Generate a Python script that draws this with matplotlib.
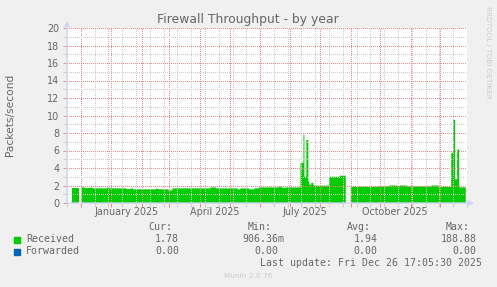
import pandas as pd
import numpy as np
import matplotlib
matplotlib.use('Agg')
import matplotlib.pyplot as plt
import matplotlib.dates as mdates
from matplotlib.ticker import MultipleLocator
from matplotlib.transforms import blended_transform_factory

# 数据（从图上读出，分段常数）
seg_dates = ['2024-11-21 17:05', '2024-11-29', '2024-12-02', '2024-12-05', '2024-12-10',
             '2024-12-13', '2024-12-28', '2024-12-30', '2025-01-16', '2025-01-21',
             '2025-01-23', '2025-02-15', '2025-02-18', '2025-02-28', '2025-03-04',
             '2025-04-12', '2025-04-17', '2025-05-09', '2025-05-12', '2025-05-21',
             '2025-05-26', '2025-05-31', '2025-06-20', '2025-06-23', '2025-06-28',
             '2025-07-12', '2025-07-15', '2025-07-16', '2025-07-18', '2025-07-20',
             '2025-07-21', '2025-07-23', '2025-07-25', '2025-07-26', '2025-08-10',
             '2025-08-21', '2025-08-27', '2025-09-01', '2025-09-28', '2025-10-10',
             '2025-10-18', '2025-10-21', '2025-10-28', '2025-11-22', '2025-11-29',
             '2025-12-12', '2025-12-14', '2025-12-16', '2025-12-18', '2025-12-20']
received = [1.67, np.nan, 1.78, 1.71, 1.75,
            1.67, 1.78, 1.67, 1.60, 1.67,
            1.56, 1.63, 1.56, 1.44, 1.67,
            1.78, 1.67, 1.56, 1.67, 1.56,
            1.67, 1.78, 1.86, 1.75, 1.78,
            4.6, 7.8, 3.0, 7.2, 2.45,
            2.1, 2.3, 2.05, 1.98, 3.0,
            3.12, np.nan, 1.86, 1.9, 2.0,
            1.95, 2.0, 1.9, 2.0, 1.86,
            5.7, 9.5, 2.7, 6.1, 1.78]
forwarded = [0.0] * len(received)

end_time = '2025-12-26 17:05:30'
month_labels = ['2025-01-16', '2025-04-16', '2025-07-16', '2025-10-16']

legend_names = ['Received', 'Forwarded']
legend_colors = ['#00CC00', '#0066B3']
legend_cur = ['1.78', '0.00']
legend_min = ['906.36m', '0.00']
legend_avg = ['1.94', '0.00']
legend_max = ['188.88', '0.00']

W, H = 497, 287
fig = plt.figure(figsize=(W / 100, H / 100), dpi=100, facecolor='#F0F0F0')
# 画布按整像素对齐，虚线网格才清楚
ax = fig.add_axes([67 / W, 84 / H, 400 / W, 175 / H], facecolor='white')

# 分段常数 -> 按小时展开（保留缺口）
t = pd.to_datetime(seg_dates, format='mixed')
grid_t = pd.date_range(t[0], pd.Timestamp(end_time), freq='1h')
recv = pd.Series(received, index=t).reindex(grid_t, method='ffill')
fwd = pd.Series(forwarded, index=t).reindex(grid_t, method='ffill')
ax.fill_between(grid_t, 0, recv.values, color='#00CC00', linewidth=0)
ax.fill_between(grid_t, 0, fwd.values, color='#0066B3', linewidth=0)

x0 = pd.Timestamp(end_time) - pd.Timedelta(days=400)
ax.set_xlim(x0, pd.Timestamp(end_time))
ax.set_ylim(0, 20)

# 网格
ax.yaxis.set_major_locator(MultipleLocator(2))
ax.yaxis.set_minor_locator(MultipleLocator(1))
ax.xaxis.set_major_locator(mdates.MonthLocator())
minor_days = pd.date_range('2024-11-17', '2025-12-31', freq='14D')
ax.set_xticks(mdates.date2num(minor_days), minor=True)
ax.xaxis.set_major_formatter(plt.NullFormatter())
ax.xaxis.set_minor_formatter(plt.NullFormatter())

red = '#EE8888'
gray = '#CCCCCC'
dots = (0.5, (1, 1))  # 偏移半像素，点落在整像素上
ax.set_axisbelow(False)
ax.grid(True, which='major', color=red, linestyle=dots, linewidth=0.72)
ax.grid(True, which='minor', color=gray, linestyle=dots, linewidth=0.72)
ax.tick_params(which='major', length=3, width=0.72, color=red, labelsize=6.9,
               labelcolor='#666666', pad=2.5)
ax.tick_params(which='minor', length=3, width=0.72, color=gray)
for s in ax.spines.values():
    s.set_visible(False)

# 坐标轴和箭头
axis_col = '#CFD6F8'
ax.annotate('', xy=(0, 1 + 7 / 175), xytext=(0, 0), xycoords='axes fraction',
            arrowprops=dict(arrowstyle='-|>', color=axis_col, lw=1, mutation_scale=7,
                            shrinkA=0, shrinkB=0), annotation_clip=False)
ax.annotate('', xy=(1 + 7 / 400, 0), xytext=(0, 0), xycoords='axes fraction',
            arrowprops=dict(arrowstyle='-|>', color=axis_col, lw=1, mutation_scale=7,
                            shrinkA=0, shrinkB=0), annotation_clip=False)

trans = blended_transform_factory(ax.transData, ax.transAxes)
for d in month_labels:
    dt = pd.Timestamp(d)
    ax.text(mdates.date2num(dt), -9.4 / 175, dt.strftime('%B %Y'), transform=trans,
            ha='center', va='center', fontsize=6.9, color='#666666')

fig.text(248 / W, 1 - 19 / H, 'Firewall Throughput - by year', ha='center', va='center',
         fontsize=8.9, color='#666666')
fig.text(10.5 / W, 1 - 115 / H, 'Packets/second', rotation=90, ha='center', va='center',
         fontsize=7.7, color='#666666')
fig.text(488 / W, 1 - 52 / H, 'RRDTOOL / TOBI OETIKER', rotation=270, ha='center', va='center',
         fontsize=5.2, color='#CCCCCC')

# 图例
mono = 'DejaVu Sans Mono'
def px(x, y):
    return x / W, 1 - y / H

for lab, xr in zip(['Cur:', 'Min:', 'Avg:', 'Max:'], [172, 272, 371, 470]):
    fig.text(*px(xr, 227.3), lab, ha='right', va='center', family=mono, fontsize=7.1, color='#666666')
rows_y = [239.5, 251.5]
for i in range(2):
    y = rows_y[i]
    fig.patches.append(plt.Rectangle(px(14, y + 3), 6 / W, 6 / H, transform=fig.transFigure,
                                     color=legend_colors[i]))
    fig.text(*px(26, y), legend_names[i], ha='left', va='center', family=mono, fontsize=7.1,
             color='#666666')
    fig.text(*px(179, y), legend_cur[i], ha='right', va='center', family=mono, fontsize=7.1, color='#666666')
    mx = 284.3 if legend_min[i].endswith('m') else 278.3
    fig.text(*px(mx, y), legend_min[i], ha='right', va='center', family=mono, fontsize=7.1, color='#666666')
    fig.text(*px(377.7, y), legend_avg[i], ha='right', va='center', family=mono, fontsize=7.1, color='#666666')
    fig.text(*px(476.7, y), legend_max[i], ha='right', va='center', family=mono, fontsize=7.1, color='#666666')

fig.text(*px(482.3, 263.3), 'Last update: Fri Dec 26 17:05:30 2025', ha='right', va='center',
         family=mono, fontsize=7.1, color='#666666')
fig.text(*px(248, 276), 'Munin 2.0.76', ha='center', va='center', fontsize=5.3, color='#CCCCCC')

plt.savefig('out.png', dpi=100, facecolor='#F0F0F0')
